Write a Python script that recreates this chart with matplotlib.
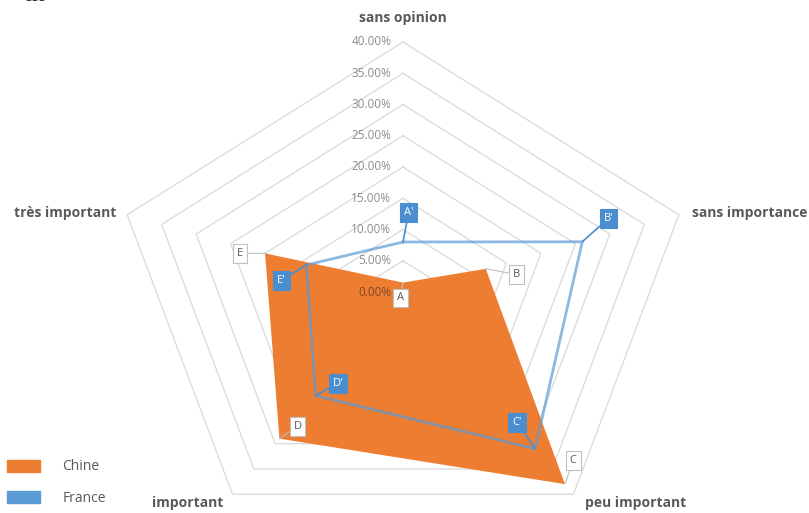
import matplotlib
matplotlib.use("Agg")
import matplotlib.pyplot as plt
from matplotlib.patches import Patch
import numpy as np

plt.rcParams['font.family'] = ['Open Sans', 'DejaVu Sans']

# données (%)
categories = ["sans opinion", "sans importance", "peu important", "important", "très important"]
chine = [1.5, 12.0, 38.0, 29.0, 20.0]
france = [8.0, 26.0, 31.0, 20.5, 14.0]
labels_chine = ["A", "B", "C", "D", "E"]
labels_france = ["A'", "B'", "C'", "D'", "E'"]
ticks = [0, 5, 10, 15, 20, 25, 30, 35, 40]

ORANGE = "#ED7D31"
BLUE = "#5B9BD5"
GRID = "#D9D9D9"
TXT = "#595959"

# étirement horizontal de l'image d'origine
SX = 1.16
ang = np.deg2rad(90 - 72 * np.arange(len(categories)))


def to_xy(vals):
    v = np.asarray(vals, dtype=float)
    return SX * v * np.cos(ang), v * np.sin(ang)


fig = plt.figure(figsize=(8.09, 5.13), dpi=100)
ax = fig.add_axes([0, 0, 1, 1])
ax.set_xlim(-403 / 6.25, (809 - 403) / 6.25)
ax.set_ylim(-221 / 6.25, 292 / 6.25)
ax.axis("off")

# grille pentagonale
for t in ticks[1:]:
    gx, gy = to_xy([t] * 5)
    ax.plot(np.append(gx, gx[0]), np.append(gy, gy[0]), color=GRID, lw=0.9, zorder=1)
for t in ticks:
    ax.text(-1.9, t, f"{t:.2f}%", ha="right", va="center", fontsize=8.5,
            color="#8c8c8c" if t > 0 else "#7a4a2a", zorder=5)

# Chine (aire)
cx, cy = to_xy(chine)
ax.fill(cx, cy, color=ORANGE, zorder=3, lw=0)

# France (ligne)
fx, fy = to_xy(france)
ax.plot(np.append(fx, fx[0]), np.append(fy, fy[0]), color=BLUE, lw=2, alpha=0.7, zorder=4)

# étiquettes des axes
cat_off = [(0, 17), (51, 1), (45, -6.5), (-32, -6.5), (-45, 1)]
ox, oy = to_xy([40] * 5)
for i, c in enumerate(categories):
    ax.annotate(c, (ox[i], oy[i]), xytext=cat_off[i], textcoords="offset points",
                ha="center", va="center", fontsize=10, fontweight="bold", color=TXT, zorder=5)

# étiquettes des points
off_c = [(-2, -11), (22, -4), (6, 17), (13, 9), (-18, 0)]
off_f = [(4, 21), (19, 17), (-13, 19), (16, 9), (-18, -11)]
for i in range(5):
    ax.annotate(labels_chine[i], (cx[i], cy[i]), xytext=off_c[i], textcoords="offset points",
                ha="center", va="center", fontsize=8, color=TXT, zorder=6,
                bbox=dict(boxstyle="square,pad=0.35", fc="white", ec="#bfbfbf", lw=0.8),
                arrowprops=dict(arrowstyle="-", color="#bfbfbf", lw=0.8, shrinkA=0, shrinkB=0))
    ax.annotate(labels_france[i], (fx[i], fy[i]), xytext=off_f[i], textcoords="offset points",
                ha="center", va="center", fontsize=8, color="white", zorder=6,
                bbox=dict(boxstyle="square,pad=0.35", fc="#4A8ED0", ec="#4A8ED0", lw=0.8),
                arrowprops=dict(arrowstyle="-", color="#4A8ED0", lw=1.2, shrinkA=0, shrinkB=0))

# légende
handles = [Patch(facecolor=ORANGE, edgecolor=ORANGE, label="Chine"),
           Patch(facecolor=BLUE, edgecolor=BLUE, label="France")]
fig.legend(handles=handles, loc="lower left", bbox_to_anchor=(0.0, 0.0), frameon=False,
           fontsize=10, handlelength=2.4, handleheight=0.95, labelspacing=1.2,
           handletextpad=1.6, labelcolor=TXT, borderaxespad=0.3, borderpad=0.2)

# fragment de texte coupé en haut à gauche
fig.text(0.045, 1.005, "333", ha="center", va="center", fontsize=9, color="#222222")

fig.savefig("out.png", dpi=100)
